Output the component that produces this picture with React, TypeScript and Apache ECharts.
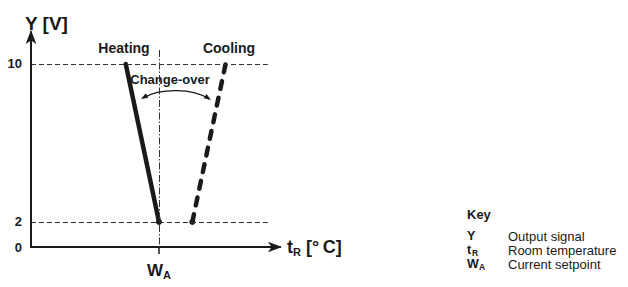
import React, { useEffect, useRef } from "react";
import * as echarts from "echarts";

// Schematic axes: x in arbitrary temperature units, setpoint W_A at 10
const setpointX = 10;
const yTickValues = [2, 10];
const yTickLabels = ["0", "2", "10"];
const heatingPoints: [number, number][] = [[7.4, 10], [10, 2]];
const coolingPoints: [number, number][] = [[12.6, 2], [15.2, 10]];
const refLevels = [10, 2];
const keyItems = [
  { sym: "Y", sub: "", text: "Output signal" },
  { sym: "t", sub: "R", text: "Room temperature" },
  { sym: "W", sub: "A", text: "Current setpoint" },
];

const FONT = "'Liberation Sans', Arial, Helvetica, sans-serif";
const INK = "#1a1a1a";

export default function App() {
  const ref = useRef<HTMLDivElement>(null);
  useEffect(() => {
    if (!ref.current) return;
    const chart = echarts.init(ref.current, null, { renderer: "svg" });
    const yMin = 0.734;
    const yMax = 11.62;
    const xMax = 19.45;
    const refEnd = 18.5;

    const keyGraphics: any[] = [
      {
        type: "text",
        x: 467,
        y: 214,
        style: { text: "Key", font: `bold 13px ${FONT}`, fill: INK, verticalAlign: "middle" },
      },
    ];
    const symW: Record<string, number> = { Y: 9, t: 5, W: 12 };
    keyItems.forEach((k, i) => {
      const y = 236 + i * 14;
      keyGraphics.push({
        type: "text",
        x: 467,
        y,
        style: { text: k.sym, font: `bold 12.5px ${FONT}`, fill: INK, verticalAlign: "middle" },
      });
      if (k.sub) {
        keyGraphics.push({
          type: "text",
          x: 467 + symW[k.sym],
          y: y + 3,
          style: { text: k.sub, font: `bold 8.5px ${FONT}`, fill: INK, verticalAlign: "middle" },
        });
      }
      keyGraphics.push({
        type: "text",
        x: 508,
        y,
        style: { text: k.text, font: `13px ${FONT}`, fill: INK, verticalAlign: "middle" },
      });
    });

    chart.setOption({
      animation: false,
      grid: { left: 31, right: 348, top: 32, bottom: 40, containLabel: false },
      xAxis: {
        type: "value",
        min: 0,
        max: xMax,
        splitLine: { show: false },
        axisLine: {
          show: true,
          symbol: ["none", "arrow"],
          symbolSize: [8, 14],
          symbolOffset: [0, 2],
          lineStyle: { color: INK, width: 2 },
        },
        axisTick: {
          show: true,
          customValues: [setpointX],
          length: 7,
          lineStyle: { color: INK, width: 1.5 },
        },
        axisLabel: {
          customValues: [setpointX],
          margin: 13,
          formatter: () => "{w|W}{s|A}",
          rich: {
            w: { fontFamily: FONT, fontWeight: "bold", fontSize: 17, color: INK },
            s: { fontFamily: FONT, fontWeight: "bold", fontSize: 11, color: INK, padding: [9, 0, 0, 0] },
          },
        },
        name: "{t|t}{s|R}{t| [°\u2009C]}",
        nameLocation: "end",
        nameGap: 7,
        nameTextStyle: {
          rich: {
            t: { fontFamily: FONT, fontWeight: "bold", fontSize: 18, color: INK },
            s: { fontFamily: FONT, fontWeight: "bold", fontSize: 11, color: INK, padding: [9, 0, 0, 0] },
          },
        },
      },
      yAxis: {
        type: "value",
        min: yMin,
        max: yMax,
        splitLine: { show: false },
        axisLine: {
          show: true,
          symbol: ["none", "arrow"],
          symbolSize: [8, 14],
          symbolOffset: [0, 2],
          lineStyle: { color: INK, width: 2 },
        },
        axisTick: { show: false },
        axisLabel: {
          customValues: [yMin, ...yTickValues],
          margin: 9,
          fontFamily: FONT,
          fontWeight: "bold",
          fontSize: 13,
          color: INK,
          formatter: (v: number) => {
            if (Math.abs(v - yMin) < 1e-6) return yTickLabels[0];
            const idx = yTickValues.indexOf(v);
            return idx >= 0 ? yTickLabels[idx + 1] : "";
          },
        },
      },
      series: [
        {
          type: "line",
          data: [],
          silent: true,
          markLine: {
            silent: true,
            symbol: "none",
            label: { show: false },
            lineStyle: { color: "#333", width: 1, type: [5, 3] },
            data: [
              ...refLevels.map((lv) => [
                { coord: [0, lv] },
                { coord: [refEnd, lv] },
              ]),
              [
                { coord: [setpointX, 10.71], lineStyle: { type: [7, 2, 1.5, 2], width: 1 } },
                { coord: [setpointX, yMin] },
              ],
            ],
          },
        },
        {
          name: "Heating",
          type: "line",
          data: [
            { value: heatingPoints[0], symbol: "none" },
            { value: heatingPoints[1], symbol: "circle", symbolSize: 6 },
          ],
          lineStyle: { color: INK, width: 4.5, cap: "round" },
          itemStyle: { color: INK },
          label: { show: false },
        },
        {
          name: "Cooling",
          type: "line",
          data: [
            { value: coolingPoints[0], symbol: "circle", symbolSize: 6 },
            { value: coolingPoints[1], symbol: "none" },
          ],
          lineStyle: { color: INK, width: 4.5, type: [8, 9], cap: "round" },
          itemStyle: { color: INK },
        },
      ],
      graphic: [
        {
          type: "text",
          x: 25,
          y: 23,
          style: { text: "Y [V]", font: `bold 19px ${FONT}`, fill: INK, verticalAlign: "middle" },
        },
        {
          type: "text",
          x: 124,
          y: 48,
          style: { text: "Heating", font: `bold 14px ${FONT}`, fill: INK, align: "center", verticalAlign: "middle" },
        },
        {
          type: "text",
          x: 229,
          y: 48,
          style: { text: "Cooling", font: `bold 14px ${FONT}`, fill: INK, align: "center", verticalAlign: "middle" },
        },
        {
          type: "text",
          x: 170,
          y: 79,
          style: { text: "Change-over", font: `bold 13px ${FONT}`, fill: INK, align: "center", verticalAlign: "middle" },
        },
        {
          type: "bezierCurve",
          shape: { x1: 143, y1: 98, cpx1: 160, cpy1: 88, cpx2: 193, cpy2: 88, x2: 209, y2: 99 },
          style: { stroke: INK, lineWidth: 1.2, fill: "none" },
        },
        {
          type: "polygon",
          shape: { points: [[141, 99], [148.3, 97.7], [145.8, 93.3]] },
          style: { fill: INK },
        },
        {
          type: "polygon",
          shape: { points: [[211, 100], [203.8, 98.2], [206.6, 94.0]] },
          style: { fill: INK },
        },
        ...keyGraphics,
      ],
    });
    return () => chart.dispose();
  }, []);
  return (
    <div
      ref={ref}
      style={{ position: "fixed", left: 0, top: 0, width: 628, height: 287, background: "#fff" }}
    />
  );
}
